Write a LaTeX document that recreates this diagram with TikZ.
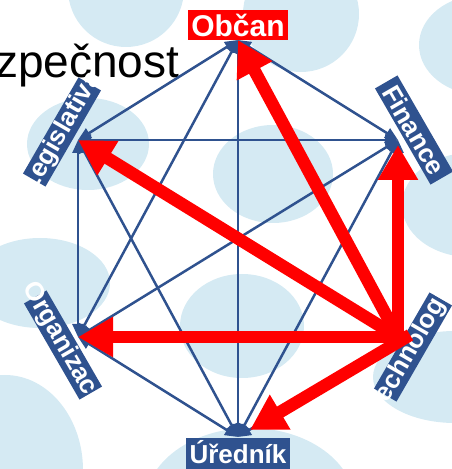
\documentclass[tikz,border=0pt]{standalone}
\usepackage{fontspec}
\setmainfont{Liberation Sans}
\usetikzlibrary{arrows.meta, positioning, calc}
\definecolor{navy}{RGB}{47,82,143}
\definecolor{bubblebg}{RGB}{213,234,243}
\definecolor{alarm}{RGB}{255,0,0}
\tikzset{
  bubble/.style={fill=bubblebg, draw=none},
  plate/.style={fill=navy, minimum width=111pt, minimum height=26pt, inner sep=0pt},
  tag/.style={text=white, font=\bfseries\fontsize{26}{26}\selectfont, inner sep=0pt},
  link/.style={{Triangle[length=13pt,width=11pt]}-{Triangle[length=13pt,width=11pt]}, color=navy, line width=2.5pt},
  flow/.style={-{Triangle[length=35pt,width=38pt]}, color=alarm, line width=12.5pt},
  heading/.style={anchor=base west, inner sep=0pt, font=\fontsize{46}{46}\selectfont},
}

\begin{document}
\begin{tikzpicture}[x=1pt, y=1pt]
    \useasboundingbox (0,0) rectangle (452,469);
    \begin{scope}
      \clip (0,0) rectangle (452,469);
      \foreach \cx/\cy/\rx/\ry in {126/480/58/58, 301/455/58/58, 482/424/63/50, 88/325/61/46,
          273/295/60/49, 470/264/68/52, 40/186/70/45, 242/143/62/52, 455/92/82/46,
          5/-1/78/95, 250/-36/105/77}
        \fill[bubble] (\cx,\cy) ellipse [x radius=\rx pt, y radius=\ry pt];
    \end{scope}
    \coordinate (obcan) at (238,429);
    \coordinate (finance) at (398,329);
    \coordinate (tech) at (398,132);
    \coordinate (urednik) at (238,32);
    \coordinate (org) at (78,132);
    \coordinate (legis) at (78,329);
    \node[heading] (title) at (-5,391) {zpečnost};
    \foreach \a/\b in {obcan/finance, obcan/tech, obcan/urednik, obcan/org, obcan/legis,
        finance/tech, finance/urednik, finance/org, finance/legis, tech/urednik,
        tech/org, tech/legis, urednik/org, urednik/legis, org/legis}
      \draw[link] (\a) -- (\b);
    \node[fill=alarm, text=white, font=\bfseries\fontsize{30}{30}\selectfont, inner xsep=3pt,
      inner ysep=0pt, text height=27pt, text depth=3pt, above=0pt of obcan] (obcanlbl) {Občan};
    \node[tag, fill=navy, inner xsep=4pt, inner ysep=6pt, text height=19pt, text depth=12pt,
      below=1pt of urednik] (urednklbl) {Úředník};
    \node[plate, rotate=-60] (financebox) at ($(finance)+(16,10)$) {};
    \node[tag, rotate=-60] (financelbl) at (financebox) {Finance};
    \node[plate, rotate=60] (techbox) at ($(tech)+(15,-10)$) {};
    \node[tag, rotate=60] (techlbl) at (techbox) {Technologie};
    \node[plate, rotate=-60] (orgbox) at ($(org)+(-15,-8)$) {};
    \node[tag, rotate=-60] (orglbl) at (orgbox) {Organizace};
    \node[plate, rotate=60] (legisbox) at ($(legis)+(-16,8)$) {};
    \node[tag, rotate=60] (legislbl) at (legisbox) {Legislativa};
    \coordinate (techout) at ($(tech)+(12,2)$);
    \draw[flow] (tech) -- (obcan);
    \draw[flow] (tech) -- (legis);
    \draw[flow, shorten >=5pt] (tech) -- (finance);
    \draw[flow] (tech) -- (org);
    \draw[flow, shorten >=14pt] (techout) -- (urednik);
  \end{tikzpicture}
\end{document}
